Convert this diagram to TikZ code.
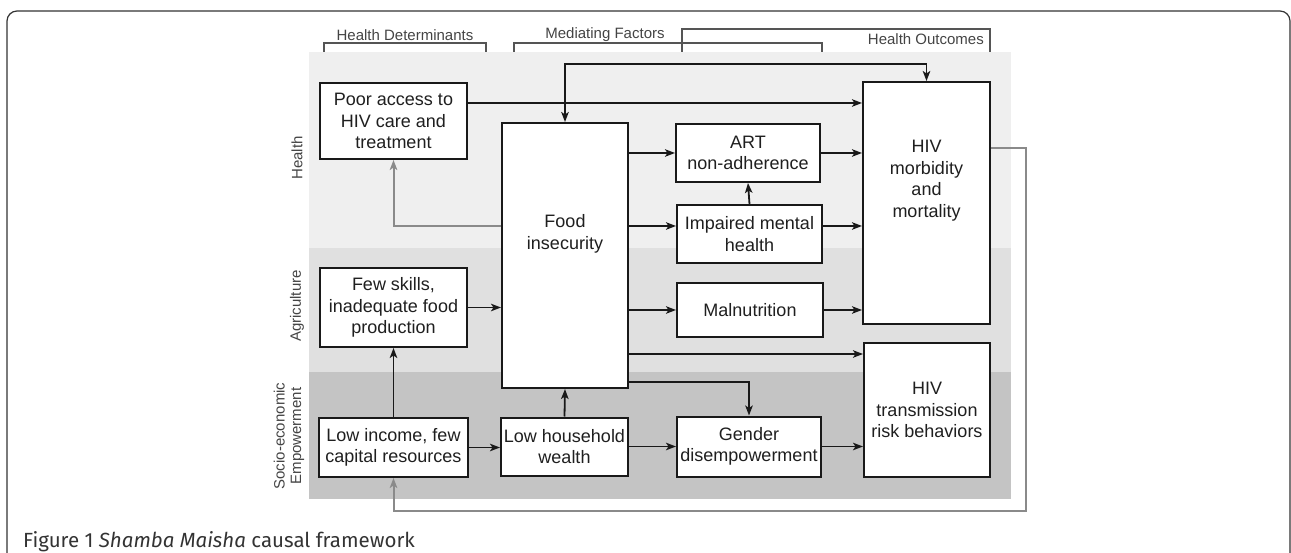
\documentclass[tikz,border=0pt]{standalone}
\usepackage{fontspec}
\setmainfont{Liberation Sans}
\newfontfamily\capfam{Fira Sans}
\usetikzlibrary{arrows.meta}
\definecolor{bandA}{HTML}{EFEFEF}
\definecolor{bandB}{HTML}{E0E0E0}
\definecolor{bandC}{HTML}{C4C4C4}
\definecolor{fbgray}{HTML}{8A8A8A}
\definecolor{brkgray}{HTML}{555555}
\definecolor{hdrgray}{HTML}{444444}
\definecolor{capgray}{HTML}{333333}
\newcommand{\dgmfont}{\fontsize{18}{21.5}\selectfont}
\newcommand{\lblfont}{\fontsize{15}{16.5}\selectfont}
\newcommand{\capfont}{\capfam\fontsize{20.5}{24}\selectfont}
\tikzset{
  box/.style={draw=black!90, line width=2pt, fill=white, inner sep=0pt, align=center, font=\dgmfont, text=black!88},
  txt/.style={inner sep=0pt, align=center, font=\dgmfont, text=black!88},
  tip/.style={-{Stealth[length=10pt,width=7.5pt,inset=2.5pt]}},
  arr/.style={draw=black!90, line width=1.8pt, tip},
  both/.style={draw=black!90, line width=1.8pt, {Stealth[length=10pt,width=7.5pt,inset=2.5pt]}-{Stealth[length=10pt,width=7.5pt,inset=2.5pt]}},
  fb/.style={draw=fbgray, line width=2pt, -{Stealth[length=10pt,width=7.5pt,inset=2.5pt]}},
  brk/.style={draw=brkgray, line width=1.2pt},
  hdr/.style={font=\lblfont, text=hdrgray, inner sep=0pt, align=center},
}
\begin{document}
\begin{tikzpicture}[x=1pt,y=-1pt]
\useasboundingbox (0,0) rectangle (1291,553);
% outer frame
\draw[line width=1.2pt, draw=black!80, rounded corners=10pt] (7,553) -- (7,11) -- (1290,11) -- (1290,553);
% bands
\fill[bandA] (309,52) rectangle (1011,248);
\fill[bandB] (309,248) rectangle (1011,372);
\fill[bandC] (309,372) rectangle (1011,499);
% header brackets
\draw[brk] (324,52) -- (324,43) -- (486,43) -- (486,52);
\draw[brk] (514,52) -- (514,43) -- (822,43) -- (822,52);
\draw[brk] (682,52) -- (682,29) -- (990,29) -- (990,52);
\node[hdr] (hd) at (405,35) {Health Determinants};
\node[hdr] (mf) at (605,35) {Mediating Factors};
\node[hdr, anchor=east] (ho) at (984,39) {Health Outcomes};
% row labels
\node[hdr, rotate=90] (lh) at (297,158) {Health};
\node[hdr, rotate=90] (la) at (297,306) {Agriculture};
\node[hdr, rotate=90] (ls) at (289,436) {Socio-economic\\Empowerment};
% helper coordinates
\coordinate (ytop) at (0,64);
\coordinate (y103) at (0,103);
\coordinate (y148) at (0,148);
\coordinate (y226) at (0,226);
\coordinate (y354) at (0,354);
\coordinate (y382) at (0,382);
\coordinate (fbR) at (1026,511);
% boxes
\node[box, minimum width=147pt, minimum height=76pt] (poor) at (393.5,121) {Poor access to\\HIV care and\\treatment};
\node[box, minimum width=126pt, minimum height=265pt] (food) at (565,255.5) {};
\node[txt] (foodtxt) at (565,234) {Food\\insecurity};
\node[box, minimum width=144pt, minimum height=58pt] (art) at (748,153) {ART\\non-adherence};
\node[box, minimum width=145pt, minimum height=58pt] (imp) at (749.5,234) {Impaired mental\\health};
\node[box, minimum width=146pt, minimum height=54pt] (mal) at (750,310) {Malnutrition};
\node[box, minimum width=127pt, minimum height=242pt] (hivm) at (926.5,203) {};
\node[txt] (hivmtxt) at (926.5,180.5) {HIV\\morbidity\\and\\mortality};
\node[box, minimum width=147pt, minimum height=79pt] (few) at (393.5,307.5) {Few skills,\\inadequate food\\production};
\node[box, minimum width=126pt, minimum height=134pt] (hivt) at (927,410) {HIV\\transmission\\risk behaviors};
\node[box, minimum width=149pt, minimum height=59pt] (lowinc) at (393.5,447.5) {Low income, few\\capital resources};
\node[box, minimum width=127pt, minimum height=58pt] (lowhh) at (564.5,446.5) {Low household\\wealth};
\node[box, minimum width=144pt, minimum height=60pt] (gender) at (749,446.5) {Gender\\disempowerment};
% connectors
\draw[both] (food.north) -- (food.north |- ytop) -| (hivm.north);
\draw[arr] (poor.east |- y103) -- (hivm.west |- y103);
\draw[arr] (food.east |- art.west) -- (art.west);
\draw[arr] (art.east) -- (hivm.west |- art.east);
\draw[arr] (food.east |- y226) -- (imp.west |- y226);
\draw[arr] (imp.east |- y226) -- (hivm.west |- y226);
\draw[arr] (imp.north) -- (art.south);
\draw[arr] (few.east) -- (food.west |- few.east);
\draw[arr] (food.east |- mal.west) -- (mal.west);
\draw[arr] (mal.east) -- (hivm.west |- mal.east);
\draw[arr] (food.east |- y354) -- (hivt.west |- y354);
\draw[arr] (food.east |- y382) -| (gender.north);
\draw[arr] (lowhh.north) -- (food.south);
\draw[arr] (lowinc.north) -- (few.south);
\draw[arr] (lowinc.east) -- (lowhh.west |- lowinc.east);
\draw[arr] (lowhh.east) -- (gender.west |- lowhh.east);
\draw[arr] (gender.east) -- (hivt.west |- gender.east);
% feedback (grey)
\draw[fb] (food.west |- y226) -| (poor.south);
\draw[fb] (hivm.east |- y148) -| (fbR) -| (lowinc.south);
% caption
\node[anchor=base west, font=\capfont, text=capgray, inner sep=0pt] (cap) at (23,547) {Figure 1 \textit{Shamba Maisha} causal framework};
\end{tikzpicture}
\end{document}
